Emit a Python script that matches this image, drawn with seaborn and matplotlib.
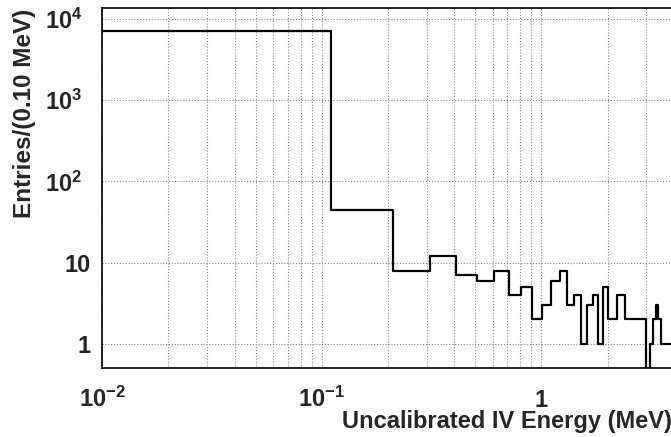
import numpy as np
import pandas as pd
import matplotlib
matplotlib.use("Agg")
import matplotlib.pyplot as plt
from matplotlib.ticker import FixedLocator, FixedFormatter, LogLocator, NullFormatter
from matplotlib.transforms import ScaledTranslation
import seaborn as sns

# Histogram binning (MeV)
bin_start = 0.01
bin_width = 0.10
# Entries per 0.10 MeV bin, starting at 0.01 MeV
counts = [7200, 44, 8, 12, 7, 6, 8, 4, 5, 2,
          3, 6, 8, 3, 4, 1, 3, 4, 1, 5,
          2, 2, 4, 4, 2, 2, 2, 2, 2, 2,
          0, 1, 2, 3, 2, 1, 1, 1, 1, 1]

x_ticks = [0.01, 0.1, 1.0]
x_tick_labels = [r"$10^{-2}$", r"$10^{-1}$", r"$1$"]
y_ticks = [1, 10, 100, 1000, 10000]
y_tick_labels = ["1", "10", r"$10^{2}$", r"$10^{3}$", r"$10^{4}$"]

x_label = "Uncalibrated IV Energy (MeV)"
y_label = "Entries/(0.10 MeV)"

sns.set_style("white")
plt.rcParams["font.family"] = ["Liberation Sans", "DejaVu Sans"]
plt.rcParams["font.weight"] = "bold"
plt.rcParams["mathtext.fontset"] = "custom"
plt.rcParams["mathtext.rm"] = "Liberation Sans:bold"
plt.rcParams["mathtext.bf"] = "Liberation Sans:bold"
plt.rcParams["mathtext.default"] = "bf"

n_bins = len(counts)
edges = [bin_start + bin_width * k for k in range(n_bins + 1)]
centers = [0.5 * (edges[k] + edges[k + 1]) for k in range(n_bins)]
df = pd.DataFrame({"energy": centers, "entries": np.asarray(counts, dtype=float)})

fig = plt.figure(figsize=(6.71, 4.37), dpi=100)
ax = fig.add_axes([0.1525, 0.1586, 0.8485, 0.8225])

sns.histplot(data=df, x="energy", weights="entries", bins=edges, element="step",
             fill=False, color="black", linewidth=1.6, ax=ax)

ax.set_xscale("log")
ax.set_yscale("log")
ax.set_xlim(0.01, 3.92)
ax.set_ylim(0.51, 13550)

ax.xaxis.set_major_locator(FixedLocator(x_ticks))
ax.xaxis.set_major_formatter(FixedFormatter(x_tick_labels))
ax.xaxis.set_minor_locator(LogLocator(base=10, subs=np.arange(2, 10)))
ax.xaxis.set_minor_formatter(NullFormatter())
ax.yaxis.set_major_locator(FixedLocator(y_ticks))
ax.yaxis.set_major_formatter(FixedFormatter(y_tick_labels))
ax.yaxis.set_minor_locator(LogLocator(base=10, subs=np.arange(2, 10)))
ax.yaxis.set_minor_formatter(NullFormatter())

ax.tick_params(which="both", direction="in", color="black", width=1.0)
ax.tick_params(which="major", length=11, labelsize=17)
ax.tick_params(which="minor", length=5.5)
ax.tick_params(axis="x", which="major", pad=28)
ax.tick_params(axis="y", which="major", pad=8.5)

ax.grid(which="major", axis="both", color="#8a8a8a", linestyle=(0, (1, 1.6)), linewidth=0.8)
ax.grid(which="minor", axis="x", color="#8a8a8a", linestyle=(0, (1, 1.6)), linewidth=0.8)
ax.set_axisbelow(True)

for side in ["left", "bottom", "top"]:
    ax.spines[side].set_visible(True)
    ax.spines[side].set_color("black")
    ax.spines[side].set_linewidth(1.2)
ax.spines["right"].set_visible(False)

ax.set_xlabel(x_label, fontsize=17, fontweight="bold", loc="right")
ax.set_ylabel(y_label, fontsize=17.5, fontweight="bold", loc="top")

# baseline-align the x tick labels so plain and exponent labels share a baseline
for tick in ax.xaxis.get_major_ticks():
    tick.label1.set_verticalalignment("baseline")

# exponent labels on the y axis sit a little further from the axis
shift = ScaledTranslation(-5.8 / 72, 0, fig.dpi_scale_trans)
for tick, lab in zip(ax.yaxis.get_major_ticks(len(y_ticks)), y_tick_labels):
    if "^" in lab:
        tick.label1.set_transform(tick.label1.get_transform() + shift)

# axis titles: x title below the tick labels at the right end, y title at the top
ax.xaxis.set_label_coords(1.0, -0.168)
ax.xaxis.label.set_verticalalignment("baseline")
ax.yaxis.set_label_coords(-0.116, 1.0)

fig.savefig("out.png", dpi=100)
